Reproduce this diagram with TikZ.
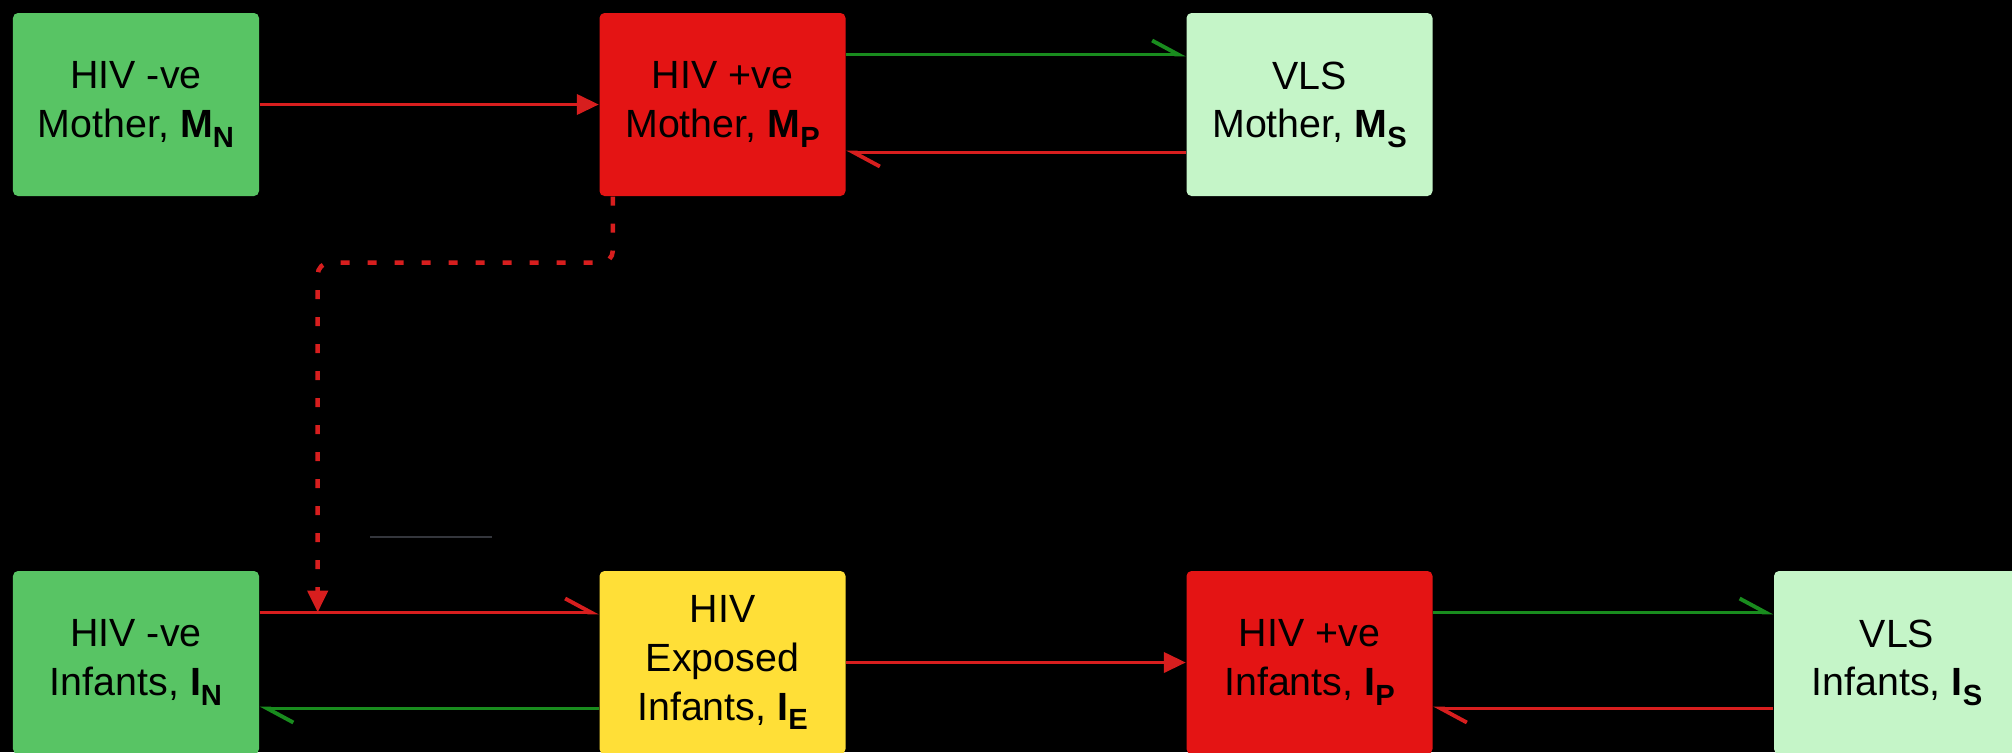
\documentclass[tikz,border=0pt]{standalone}
\usepackage{fontspec}
\setmainfont{Liberation Sans}
\usetikzlibrary{arrows.meta,positioning,calc}

\definecolor{boxgreen}{RGB}{88,196,100}
\definecolor{boxred}{RGB}{228,20,20}
\definecolor{boxpale}{RGB}{197,245,200}
\definecolor{boxyellow}{RGB}{255,223,55}
\definecolor{linered}{RGB}{215,30,30}
\definecolor{linegreen}{RGB}{25,140,30}
\definecolor{linegrey}{RGB}{52,54,60}

% bold letter with bold lowered index
\newcommand{\comp}[2]{\textbf{#1}\raisebox{-0.45ex}{\fontsize{8.3}{8}\selectfont\textbf{#2}}}

\tikzset{
  compart/.style={rectangle,rounded corners=0.05cm,minimum width=2.46cm,minimum height=1.83cm,inner sep=0pt,align=center,text=black,font=\fontsize{11.2}{13.9}\selectfont},
  redline/.style={draw=linered,line width=1.1pt},
  greenline/.style={draw=linegreen,line width=1.1pt},
  fulltip/.style={-{Triangle[length=0.22cm,width=0.2cm]}},
  barbtip/.style={-{Straight Barb[harpoon,length=0.26cm,width=0.28cm]}}
}

\begin{document}
\begin{tikzpicture}

%background
\fill[black] (0,0) rectangle (20.12,7.52);
\useasboundingbox (0,0) rectangle (20.12,7.52);

%mothers
\node[compart,fill=boxgreen] (MN) at (1.36,6.475) {HIV -ve\\Mother, \comp{M}{N}};
\node[compart,fill=boxred] (MP) at (7.225,6.475) {HIV +ve\\Mother, \comp{M}{P}};
\node[compart,fill=boxpale] (MS) at (13.095,6.475) {VLS\\Mother, \comp{M}{S}};

%infants
\node[compart,fill=boxgreen] (IN) at (1.36,0.895) {HIV -ve\\Infants, \comp{I}{N}};
\node[compart,fill=boxyellow] (IE) at (7.225,0.895) {HIV\\Exposed\\Infants, \comp{I}{E}};
\node[compart,fill=boxred] (IP) at (13.095,0.895) {HIV +ve\\Infants, \comp{I}{P}};
\node[compart,fill=boxpale] (IS) at (18.97,0.895) {VLS\\Infants, \comp{I}{S}};

%mother transitions
\draw[redline,fulltip] (MN) -- (MP);
\draw[greenline,barbtip] ([yshift=0.5cm]MP.east) -- ([yshift=0.5cm]MS.west);
\draw[redline,barbtip] ([yshift=-0.48cm]MS.west) -- ([yshift=-0.48cm]MP.east);

%infant transitions
\draw[redline,barbtip] ([yshift=0.5cm]IN.east) -- ([yshift=0.5cm]IE.west);
\draw[greenline,barbtip] ([yshift=-0.46cm]IE.west) -- ([yshift=-0.46cm]IN.east);
\draw[redline,fulltip] (IE) -- (IP);
\draw[greenline,barbtip] ([yshift=0.5cm]IP.east) -- ([yshift=0.5cm]IS.west);
\draw[redline,barbtip] ([yshift=-0.46cm]IS.west) -- ([yshift=-0.46cm]IP.east);

%mother->infant exposure
\coordinate (drop) at ([xshift=0.58cm,yshift=0.5cm]IN.east);
\draw[redline,line width=1.3pt,fulltip,dash pattern=on 0.09cm off 0.18cm,rounded corners=0.12cm] ([xshift=0.14cm]MP.south west) -- ++(0,-0.66) -| (drop);

%stray grey mark
\draw[linegrey,line width=0.6pt] (3.70,2.15) -- (4.92,2.15);

\end{tikzpicture}
\end{document}
